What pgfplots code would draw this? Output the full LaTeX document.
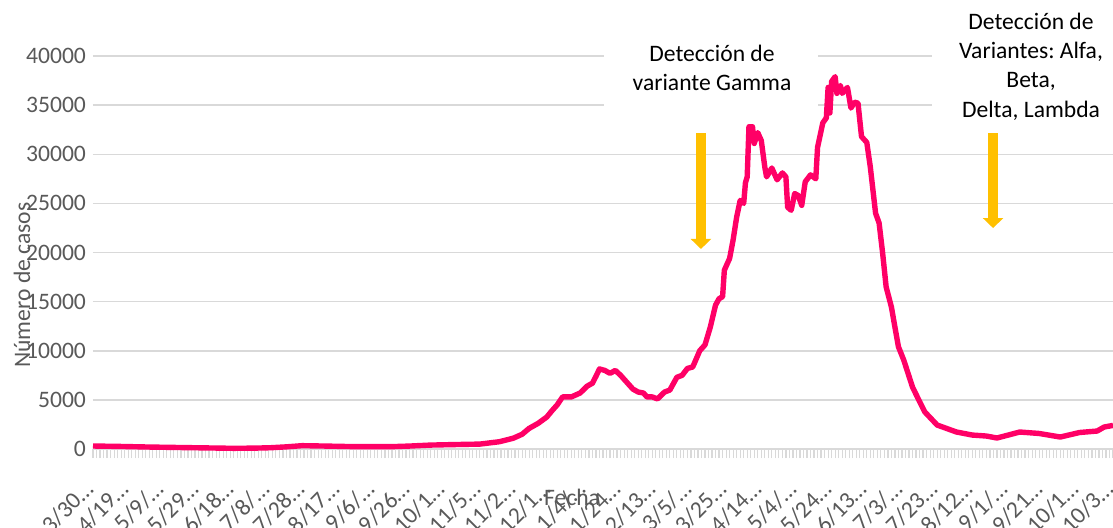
\documentclass[border=0pt]{standalone}
\usepackage{pgfplots}
\pgfplotsset{compat=1.18}
\usepackage{fontspec}
\setmainfont{Carlito}
\usetikzlibrary{arrows.meta}
\frenchspacing

\definecolor{casos}{RGB}{255,0,102}
\definecolor{oro}{RGB}{255,192,0}
\definecolor{txtgris}{RGB}{89,89,89}
\definecolor{grilla}{RGB}{217,217,217}

\begin{document}
\begin{tikzpicture}
% 1 px de la referencia = 0.5pt
\useasboundingbox (-46.5pt,-39pt) rectangle (510pt,224.5pt);
\begin{axis}[
    at={(0,0)}, anchor=south west,
    scale only axis,
    width=510pt, height=196.5pt,
    xmin=0, xmax=580,
    ymin=0, ymax=40000,
    clip=false,
    axis line style={draw=none},
    ymajorgrids,
    major grid style={grilla, line width=0.75pt},
    ytick={0,5000,...,40000},
    scaled y ticks=false,
    xtick={0,20,...,580},
    xticklabels={3/30…,4/19…,5/9/…,5/29…,6/18…,7/8/…,7/28…,8/17…,9/6/…,9/26…,
        10/1…,11/5…,11/2…,12/1…,1/4/…,1/24…,2/13…,3/5/…,3/25…,4/14…,
        5/4/…,5/24…,6/13…,7/3/…,7/23…,8/12…,9/1/…,9/21…,10/1…,10/3…},
    minor xtick={0,2,...,580},
    tick align=outside,
    xtick pos=bottom, ytick pos=left,
    major tick length=0pt,
    minor tick length=4.5pt,
    minor tick style={grilla, line width=0.6pt},
    /pgf/number format/.cd, 1000 sep={}, assume math mode=true,
    /pgfplots/.cd,
    tick label style={font=\fontsize{11.8}{14}\selectfont, text=txtgris},
    xticklabel style={rotate=45, anchor=north east, inner sep=0pt, xshift=-14pt, yshift=-7pt},
    xlabel={Fecha},
    ylabel={Número de casos},
    label style={font=\fontsize{11.8}{14}\selectfont, text=txtgris},
    xlabel style={at={(axis description cs:0.4696,-0.122)}, anchor=center},
    ylabel style={at={(axis description cs:-0.0696,0.417)}, anchor=center},
]

\addplot[casos, line width=2.7pt, line join=round, no marks] coordinates {
(0,305) (16,260) (32,200) (50,150) (65,110) (80,70) (92,90) (101,130)
(110,220) (119,340) (132,300) (146,250) (160,240) (169,235) (180,300)
(192,400) (205,450) (220,500) (231,740) (239,1100) (244,1500) (248,2100)
(253,2600) (258,3250) (261,3900) (264,4500) (267,5300) (272,5300) (277,5700)
(281,6400) (284,6700) (286,7400) (288,8150) (291,8000) (294,7700) (297,8000)
(300,7500) (304,6700) (307,6100) (310,5800) (313,5700) (315,5300) (318,5300)
(321,5100) (325,5800) (328,6000) (332,7300) (335,7500) (338,8200) (341,8350)
(342,8750) (345,10000) (348,10600) (351,12400) (354,14650) (356,15300)
(358,15500) (359,18200) (362,19400) (364,21300) (366,23600) (368,25300)
(370,25000) (371,27100) (372,27700) (373,32800) (375,32800) (376,31100)
(378,32200) (380,31400) (382,28700) (383,27700) (386,28600) (389,27400)
(392,28100) (394,27700) (395,24600) (397,24300) (399,26000) (401,25800)
(403,24800) (405,27200) (408,27900) (411,27500) (412,30700) (415,33200)
(417,33700) (418,36800) (419,34200) (420,37400) (422,37900) (423,36200)
(425,37000) (426,36200) (429,36800) (431,34700) (433,35300) (435,35200)
(437,31800) (440,31200) (442,28700) (445,24000) (447,23000) (449,19950)
(451,16500) (454,14450) (456,12400) (458,10400) (461,9060) (466,6300)
(469,5200) (473,3770) (480,2440) (491,1730) (500,1420) (508,1320)
(514,1120) (520,1400) (527,1730) (538,1580) (550,1220) (561,1680)
(571,1830) (575,2240) (580,2400)
};

% cuadros de texto blancos sobre la grilla
\fill[white] (axis cs:290.6,33690) rectangle (axis cs:412.3,42140);
\fill[white] (axis cs:477.1,32980) rectangle (axis cs:580,45190);

\node[align=center, inner sep=0pt, font=\fontsize{11.8}{14.8}\selectfont]
    at (axis cs:352,38780) {Detección de\\variante Gamma};
\node[align=center, inner sep=0pt, font=\fontsize{11.8}{14.6}\selectfont]
    at (axis cs:533.4,38930) {Detección de\\Variantes: Alfa,\\Beta,\\Delta, Lambda};

% flechas
\draw[oro, line width=5pt, -{Triangle[width=10pt,length=5pt]}]
    (axis cs:345.7,32160) -- (axis cs:345.7,20360);
\draw[oro, line width=5pt, -{Triangle[width=10pt,length=5pt]}]
    (axis cs:511.8,32160) -- (axis cs:511.8,22490);

\end{axis}
\end{tikzpicture}
\end{document}
